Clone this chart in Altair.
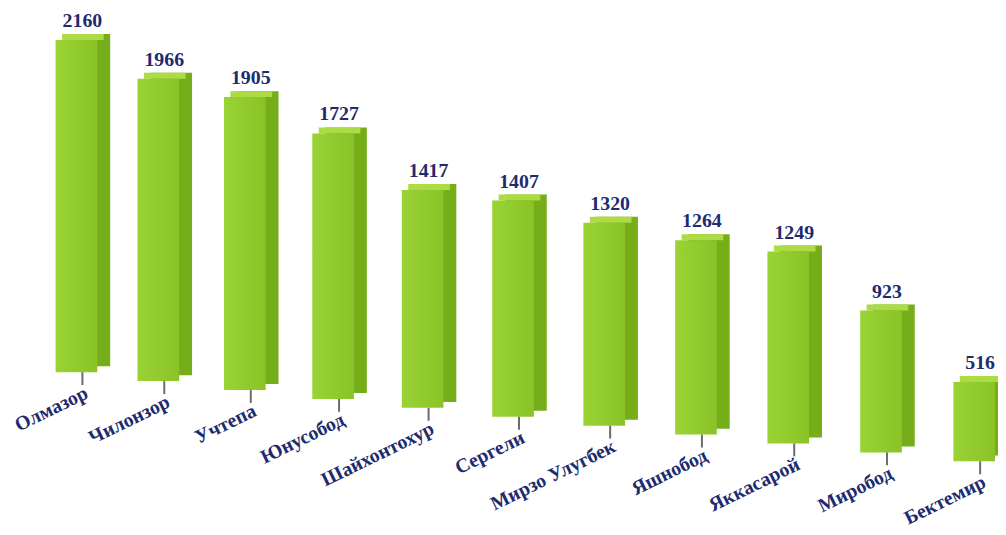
import altair as alt
import pandas as pd

districts = ["Олмазор", "Чилонзор", "Учтепа", "Юнусобод", "Шайхонтохур", "Сергели",
             "Мирзо Улугбек", "Яшнобод", "Яккасарой", "Миробод", "Бектемир"]
values = [2160, 1966, 1905, 1727, 1417, 1407, 1320, 1264, 1249, 923, 516]
order = list(range(len(districts)))

df = pd.DataFrame({"district": districts, "value": values, "idx": order})

SIDE = "#76ae19"
TOP = "#acdb46"
NAVY = "#1d2b6f"
FONT = "Liberation Serif"
BAR_W = 42

front_fill = alt.LinearGradient(
    gradient="linear",
    stops=[alt.GradientStop(color="#9ad334", offset=0),
           alt.GradientStop(color="#89c327", offset=1)],
    x1=0, x2=1, y1=0, y2=0,
)

base = alt.Chart(df).transform_calculate(
    base="-58 * datum.idx",
    top="-58 * datum.idx + datum.value",
)

# slightly widening spacing to the right (perspective)
x = alt.X("idx:Q",
          scale=alt.Scale(type="pow", exponent=1.04, domain=[0, 10],
                          range=[69, 974], nice=False, zero=False, padding=0),
          axis=None)
y_scale = alt.Scale(domain=[-1000, 2355], nice=False, zero=False)
y_top = alt.Y("top:Q", scale=y_scale, axis=None)
y_base = alt.Y("base:Q", scale=y_scale, axis=None)

side = base.mark_bar(color=SIDE, width=BAR_W, xOffset=13, yOffset=-6, y2Offset=-6).encode(
    x=x, y=y_top, y2="base:Q")
topface = base.mark_bar(color=TOP, width=BAR_W, xOffset=6.5, yOffset=-6, y2Offset=0).encode(
    x=x, y=y_top, y2="top:Q")
front = base.mark_bar(color=front_fill, width=BAR_W).encode(x=x, y=y_top, y2="base:Q")
ticks = base.mark_rule(color="#6b6b6b", strokeWidth=2, xOffset=6, y2Offset=13).encode(
    x=x, y=y_base, y2="base:Q")
vals = base.mark_text(font=FONT, fontWeight="bold", fontSize=20, color=NAVY,
                      dx=6, dy=-13, baseline="alphabetic").encode(
    x=x, y=y_top, text="value:Q")
labels = base.mark_text(font=FONT, fontWeight="bold", fontSize=20, color=NAVY,
                        align="right", baseline="top", angle=334,
                        xOffset=6, yOffset=11).encode(
    x=x, y=y_base, text="district:N")

chart = alt.layer(side, topface, front, ticks, vals, labels).properties(
    width=998, height=520,
    autosize=alt.AutoSizeParams(type="none"),
    padding=0,
).configure_view(stroke=None)

chart.save("out.html", embed_options={"renderer": "svg", "actions": False})
